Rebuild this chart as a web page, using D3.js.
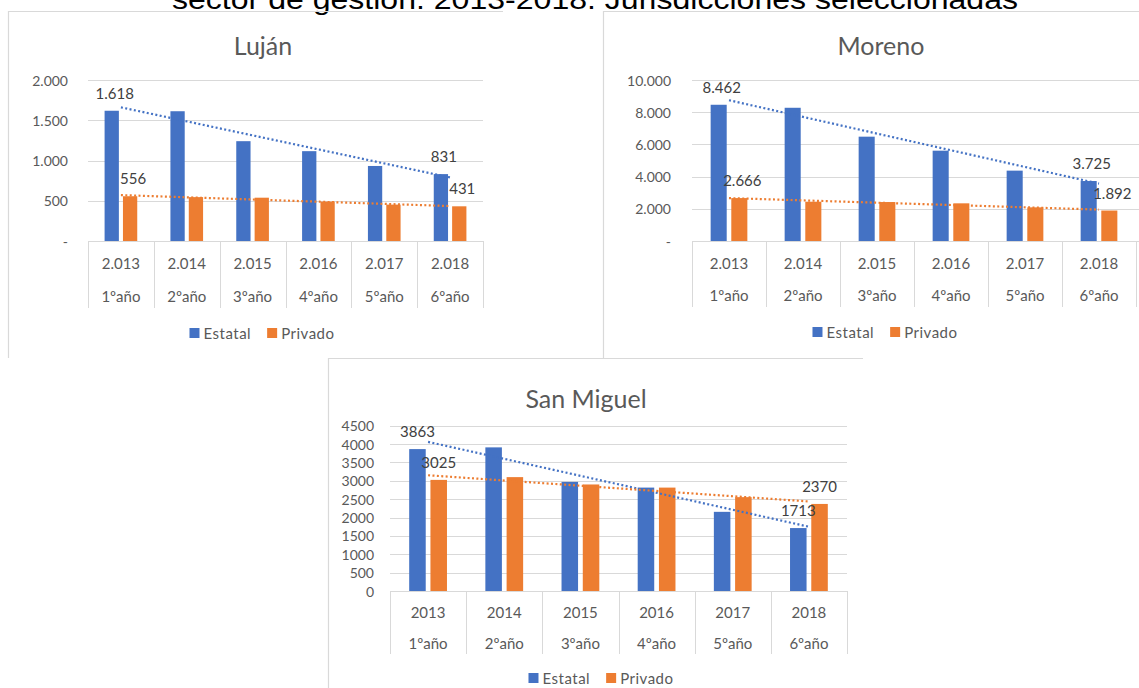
<!DOCTYPE html>
<html>
<head>
<meta charset="utf-8">
<script src="https://cdn.jsdelivr.net/npm/d3@7"></script>
<style>
  body { margin: 0; background: #fff; }
  svg { display: block; font-family: Lato, "Open Sans", sans-serif; }
</style>
</head>
<body>
<div id="chart"></div>
<script>
// datos
var anios = ["2013", "2014", "2015", "2016", "2017", "2018"];
var cursos = ["1ºaño", "2ºaño", "3ºaño", "4ºaño", "5ºaño", "6ºaño"];
var series = ["Estatal", "Privado"];

var lujanEstatal = [1618, 1612, 1240, 1116, 932, 831];
var lujanPrivado = [556, 545, 538, 490, 452, 431];
var lujanTicks = [0, 500, 1000, 1500, 2000];

var morenoEstatal = [8462, 8275, 6480, 5610, 4370, 3725];
var morenoPrivado = [2666, 2440, 2420, 2340, 2090, 1892];
var morenoTicks = [0, 2000, 4000, 6000, 8000, 10000];

var sanMiguelEstatal = [3863, 3910, 2970, 2815, 2155, 1713];
var sanMiguelPrivado = [3025, 3100, 2900, 2815, 2555, 2370];
var sanMiguelTicks = [0, 500, 1000, 1500, 2000, 2500, 3000, 3500, 4000, 4500];

var tituloGeneral = "sector de gestión. 2013-2018. Jurisdicciones seleccionadas";

var color = d3.scaleOrdinal().domain(series).range(["#4472C4", "#ED7D31"]);

var es = d3.formatLocale({decimal: ",", thousands: ".", grouping: [3], currency: ["$", ""]});
var fmtPunto = function(d) { return d === 0 ? "-" : es.format(",d")(d); };
var fmtPlano = function(d) { return String(d); };

var width = 1139, height = 688;

var svg = d3.select("#chart").append("svg")
    .attr("width", width)
    .attr("height", height);

svg.append("rect").attr("width", width).attr("height", height).attr("fill", "#fff");

// titulo general, cortado arriba como en la imagen
svg.append("text")
    .attr("x", 172)
    .attr("y", 9)
    .attr("textLength", 846)
    .attr("lengthAdjust", "spacingAndGlyphs")
    .style("font-family", "'Liberation Sans', Arial, sans-serif")
    .style("font-size", "27px")
    .attr("fill", "#000")
    .text(tituloGeneral);

var paneles = [
  { titulo: "Luján", estatal: lujanEstatal, privado: lujanPrivado, ticks: lujanTicks,
    fmt: fmtPunto, anioFmt: function(a) { return es.format(",d")(+a); },
    marco: {x: 8, y: 11, r: 503, b: 358}, gridFin: 483,
    plot: {x0: 88, x1: 483, y0: 241, y1: 80}, tituloX: 263, tituloY: 45,
    tickX: 68, filaAnio: 263, filaCurso: 296, sepFin: 308, leyendaX: 262, leyendaY: 333, dx: 3 },
  { titulo: "Moreno", estatal: morenoEstatal, privado: morenoPrivado, ticks: morenoTicks,
    fmt: fmtPunto, anioFmt: function(a) { return es.format(",d")(+a); },
    marco: {x: 603, y: 11, r: 1139, b: 358}, gridFin: 1139,
    plot: {x0: 692, x1: 1136, y0: 241, y1: 80}, tituloX: 881, tituloY: 45,
    tickX: 671, filaAnio: 263, filaCurso: 295, sepFin: 307, leyendaX: 885, leyendaY: 332, dx: 3 },
  { titulo: "San Miguel", estatal: sanMiguelEstatal, privado: sanMiguelPrivado, ticks: sanMiguelTicks,
    fmt: fmtPlano, anioFmt: fmtPlano,
    marco: {x: 328, y: 358, r: 863, b: 688}, gridFin: 847,
    plot: {x0: 390, x1: 847, y0: 591, y1: 425.7}, tituloX: 586, tituloY: 398,
    tickX: 374, filaAnio: 612, filaCurso: 643, sepFin: 654, leyendaX: 601, leyendaY: 678, dx: 0 }
];

paneles.forEach(dibujarPanel);

function dibujarPanel(p) {
  var g = svg.append("g");
  var m = p.marco;

  // marco (solo lo visible)
  g.append("path")
      .attr("d", "M" + (m.x + 0.5) + "," + m.b + "V" + (m.y + 0.5) + "H" + m.r)
      .attr("fill", "none")
      .attr("stroke", "#d9d9d9")
      .attr("stroke-width", 1.2);

  g.append("text")
      .attr("x", p.tituloX)
      .attr("y", p.tituloY)
      .attr("text-anchor", "middle")
      .attr("dominant-baseline", "central")
      .attr("fill", "#595959")
      .style("font-size", "25px")
      .text(p.titulo);

  var x = d3.scaleBand().domain(anios).range([p.plot.x0, p.plot.x1]).padding(0);
  var y = d3.scaleLinear()
      .domain([0, d3.max(p.ticks)])
      .range([p.plot.y0, p.plot.y1]);

  var bw = x.bandwidth() * 0.217, gap = x.bandwidth() * 0.062;
  var x1 = d3.scaleBand().domain(series)
      .range([-bw - gap / 2, bw + gap / 2])
      .paddingInner(gap / (bw + gap)).paddingOuter(0);

  // grilla
  g.selectAll(".grid")
      .data(p.ticks)
    .enter().append("line")
      .attr("x1", p.plot.x0)
      .attr("x2", p.gridFin)
      .attr("y1", function(d) { return Math.round(y(d)) + 0.5; })
      .attr("y2", function(d) { return Math.round(y(d)) + 0.5; })
      .attr("stroke", "#d9d9d9")
      .attr("stroke-width", 1);

  g.selectAll(".tick")
      .data(p.ticks)
    .enter().append("text")
      .attr("x", p.tickX)
      .attr("y", function(d) { return y(d); })
      .attr("text-anchor", "end")
      .attr("dominant-baseline", "central")
      .attr("fill", "#595959")
      .style("font-size", "14px")
      .text(p.fmt);

  // eje de categorias en dos niveles
  var bordes = anios.map(function(a) { return x(a); }).concat([p.plot.x1]);
  g.selectAll(".sep")
      .data(bordes)
    .enter().append("line")
      .attr("x1", function(d) { return Math.round(d) + 0.5; })
      .attr("x2", function(d) { return Math.round(d) + 0.5; })
      .attr("y1", p.plot.y0)
      .attr("y2", p.sepFin)
      .attr("stroke", "#d9d9d9");

  g.selectAll(".anio")
      .data(anios)
    .enter().append("text")
      .attr("x", function(d) { return x(d) + x.bandwidth() / 2; })
      .attr("y", p.filaAnio)
      .attr("text-anchor", "middle")
      .attr("dominant-baseline", "central")
      .attr("fill", "#595959")
      .style("font-size", "15px")
      .text(p.anioFmt);

  g.selectAll(".curso")
      .data(cursos)
    .enter().append("text")
      .attr("x", function(d, i) { return x(anios[i]) + x.bandwidth() / 2; })
      .attr("y", p.filaCurso)
      .attr("text-anchor", "middle")
      .attr("dominant-baseline", "central")
      .attr("fill", "#595959")
      .style("font-size", "15px")
      .text(function(d) { return d; });

  // barras
  var valores = {Estatal: p.estatal, Privado: p.privado};
  series.forEach(function(s) {
    g.selectAll(".bar-" + s)
        .data(valores[s])
      .enter().append("rect")
        .attr("x", function(d, i) { return x(anios[i]) + x.bandwidth() / 2 + x1(s); })
        .attr("y", function(d) { return y(d); })
        .attr("width", x1.bandwidth())
        .attr("height", function(d) { return y(0) - y(d); })
        .attr("fill", color(s));
  });

  g.append("line")
      .attr("x1", p.plot.x0).attr("x2", p.plot.x1)
      .attr("y1", Math.round(y(0)) + 0.5).attr("y2", Math.round(y(0)) + 0.5)
      .attr("stroke", "#d9d9d9");

  // lineas de tendencia (regresion lineal)
  series.forEach(function(s) {
    var v = valores[s];
    var xs = v.map(function(d, i) { return i + 1; });
    var mx = d3.mean(xs), my = d3.mean(v);
    var b = d3.sum(xs, function(xi, i) { return (xi - mx) * (v[i] - my); }) /
            d3.sum(xs, function(xi) { return (xi - mx) * (xi - mx); });
    var a = my - b * mx;
    var linea = d3.line()
        .x(function(d) { return x(anios[d - 1]) + x.bandwidth() / 2; })
        .y(function(d) { return y(a + b * d); });
    g.append("path")
        .attr("d", linea([1, v.length]))
        .attr("fill", "none")
        .attr("stroke", color(s))
        .attr("stroke-width", 2.2)
        .attr("stroke-dasharray", "2,2.4");
  });

  // etiquetas: primer y ultimo valor de cada serie
  series.forEach(function(s) {
    var v = valores[s];
    [0, v.length - 1].forEach(function(i) {
      g.append("text")
          .attr("x", x(anios[i]) + x.bandwidth() / 2 + x1(s) + x1.bandwidth() / 2 + p.dx)
          .attr("y", y(v[i]) - 18)
          .attr("text-anchor", "middle")
          .attr("dominant-baseline", "central")
          .attr("fill", "#404040")
          .style("font-size", "15px")
          .text(p.fmt(v[i]));
    });
  });

  // leyenda
  var ley = g.append("g");
  var cx = 0;
  series.forEach(function(s, i) {
    var it = ley.append("g").attr("transform", "translate(" + cx + ",0)");
    it.append("rect")
        .attr("x", 0).attr("y", -5)
        .attr("width", 10).attr("height", 10)
        .attr("fill", color(s));
    var t = it.append("text")
        .attr("x", 14)
        .attr("y", 0)
        .attr("dominant-baseline", "central")
        .attr("fill", "#595959")
        .style("font-size", "15px")
        .style("letter-spacing", "0.5px")
        .text(s);
    cx += 14 + t.node().getComputedTextLength() + (i === 0 ? 16 : 0);
  });
  ley.attr("transform", "translate(" + (p.leyendaX - cx / 2) + "," + p.leyendaY + ")");
}
</script>
</body>
</html>
